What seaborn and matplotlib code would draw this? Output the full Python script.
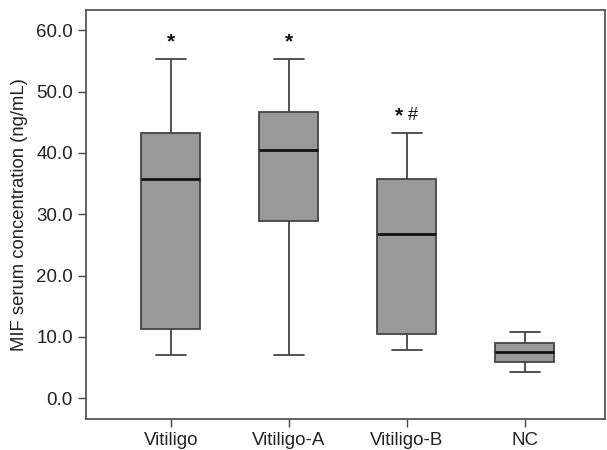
import numpy as np
import pandas as pd
import matplotlib
matplotlib.use("Agg")
import matplotlib.pyplot as plt
import seaborn as sns

# Five-number summaries: [min, Q1, median, Q3, max]
groups = ["Vitiligo", "Vitiligo-A", "Vitiligo-B", "NC"]
vitiligo = [7.1, 11.2, 35.7, 43.3, 55.3]
vitiligo_a = [7.1, 28.9, 40.4, 46.6, 55.3]
vitiligo_b = [7.8, 10.5, 26.7, 35.7, 43.2]
nc = [4.3, 5.9, 7.55, 9.0, 10.8]
annotations = ["*", "*", "*", ""]
extra_marks = ["", "", "#", ""]
y_ticks = [0, 10, 20, 30, 40, 50, 60]

series = [vitiligo, vitiligo_a, vitiligo_b, nc]
df = pd.DataFrame({
    "group": np.repeat(groups, [len(s) for s in series]),
    "value": np.concatenate(series),
})

sns.set_theme(style="white")
plt.rcParams["font.family"] = ["Liberation Sans", "DejaVu Sans"]

fig = plt.figure(figsize=(6.07, 4.5), dpi=100)
ax = fig.add_axes([0.1417, 0.0689, 0.855, 0.9089])

edge = "#444444"
sns.boxplot(
    data=df, x="group", y="value", order=groups, ax=ax,
    whis=(0, 100), width=0.5, color="#999999", saturation=1,
    linewidth=1.3, linecolor=edge,
    boxprops=dict(facecolor="#999999", edgecolor=edge),
    medianprops=dict(color="#111111", linewidth=2.0),
    whiskerprops=dict(color=edge),
    capprops=dict(color=edge),
    showfliers=False,
)

for i, (s, txt, ex) in enumerate(zip(series, annotations, extra_marks)):
    if txt and ex:
        ax.text(i - 0.07, max(s) + 1.3, txt, ha="center", va="bottom",
                fontsize=15, fontweight="bold", color="#111111")
        ax.text(i + 0.055, max(s) + 1.5, ex, ha="center", va="bottom",
                fontsize=13, color="#111111")
    elif txt:
        ax.text(i, max(s) + 1.3, txt, ha="center", va="bottom",
                fontsize=15, fontweight="bold", color="#111111")

ax.set_xlim(-0.72, 3.68)
ax.set_ylim(-3.4, 63.3)
ax.set_yticks(y_ticks)
ax.set_yticklabels([f"{v:.1f}" for v in y_ticks])
ax.set_xlabel("")
ax.set_ylabel("MIF serum concentration (ng/mL)", fontsize=13.3,
              color="#222222", labelpad=6)
ax.tick_params(axis="both", which="major", direction="out", length=5.5,
               width=1.0, color="#444444", labelsize=13.5, labelcolor="#222222",
               left=True, bottom=True, pad=4)
for sp in ax.spines.values():
    sp.set_visible(True)
    sp.set_color("#555555")
    sp.set_linewidth(1.3)

fig.savefig("out.png", dpi=100)
